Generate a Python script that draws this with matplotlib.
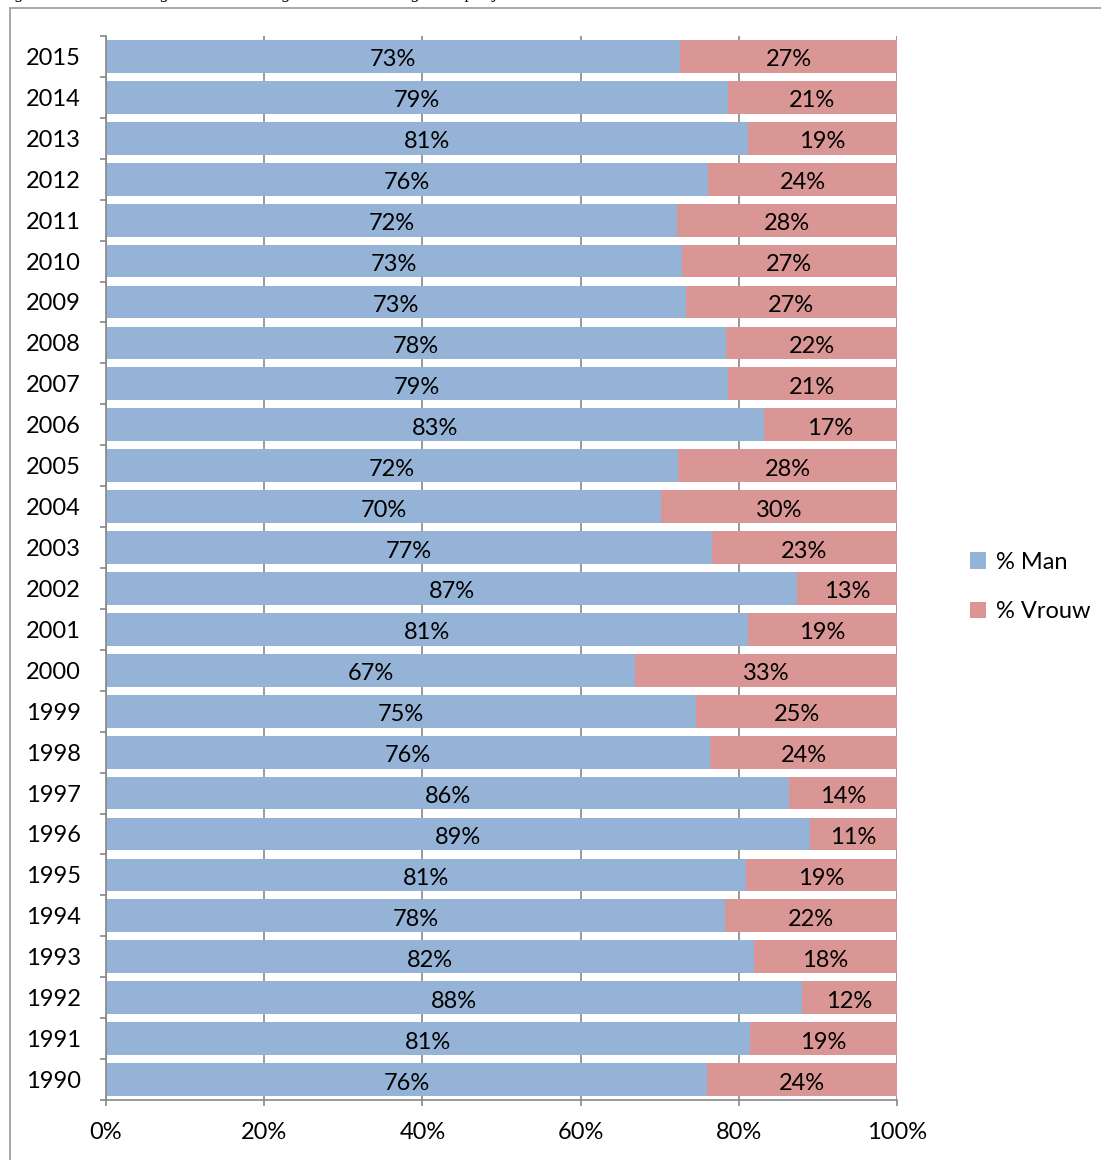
import matplotlib
matplotlib.use("Agg")
import matplotlib.pyplot as plt
from matplotlib.patches import Rectangle
from matplotlib.transforms import offset_copy
import numpy as np

years = ["1990", "1991", "1992", "1993", "1994", "1995", "1996", "1997", "1998", "1999",
         "2000", "2001", "2002", "2003", "2004", "2005", "2006", "2007", "2008", "2009",
         "2010", "2011", "2012", "2013", "2014", "2015"]
pct_man = [76.0, 81.4, 88.0, 81.9, 78.3, 80.9, 89.0, 86.4, 76.4, 74.6,
           66.9, 81.2, 87.4, 76.6, 70.2, 72.3, 83.2, 78.6, 78.4, 73.3,
           72.8, 72.2, 76.1, 81.2, 78.6, 72.6]
pct_vrouw = [100 - v for v in pct_man]
series_names = ["% Man", "% Vrouw"]
x_ticks = [0, 20, 40, 60, 80, 100]
x_ticklabels = ["0%", "20%", "40%", "60%", "80%", "100%"]

c_man = "#95B3D7"
c_vrouw = "#D99694"
font = "Lato"
fs = 17

fig = plt.figure(figsize=(11.01, 11.60), dpi=100)
W, H = 1101, 1160
ax = fig.add_axes([106 / W, 60 / H, (897 - 106) / W, (1100 - 36) / H])

y = np.arange(len(years))
ax.barh(y, pct_man, height=0.8, color=c_man, label=series_names[0], zorder=3)
ax.barh(y, pct_vrouw, left=pct_man, height=0.8, color=c_vrouw, label=series_names[1], zorder=3)

tr = offset_copy(ax.transData, fig=fig, x=0, y=-3.5, units="dots")
for i in range(len(years)):
    m, v = pct_man[i], pct_vrouw[i]
    ax.text(m / 2, i, f"{round(m)}%", ha="center", va="center", fontsize=fs,
            family=font, color="black", zorder=4, transform=tr)
    ax.text(m + v / 2, i, f"{round(v)}%", ha="center", va="center", fontsize=fs,
            family=font, color="black", zorder=4, transform=tr)

ax.set_xlim(0, 100)
ax.set_ylim(-0.5, len(years) - 0.5)
ax.set_xticks(x_ticks)
ax.set_xticklabels(x_ticklabels, family=font, fontsize=fs)
ax.set_yticks(y)
ax.set_yticklabels(years, family=font, fontsize=fs)
ax.set_yticks(np.arange(-0.5, len(years), 1), minor=True)
ax.tick_params(axis="y", which="major", length=0, pad=18)
ax.tick_params(axis="y", which="minor", length=4.5, color="#878787", width=1.2, direction="out")
ax.tick_params(axis="x", which="major", length=4.5, color="#878787", width=1.2, direction="out", pad=11)
ax.grid(axis="x", color="#878787", linewidth=1.2, zorder=0)

for s in ["top", "right"]:
    ax.spines[s].set_visible(False)
for s in ["left", "bottom"]:
    ax.spines[s].set_color("#878787")
    ax.spines[s].set_linewidth(1.2)
    ax.spines[s].set_zorder(5)

handles, labels = ax.get_legend_handles_labels()
leg = fig.legend(handles, labels, loc="center left", bbox_to_anchor=(958 / W, 1 - 587 / H),
                 frameon=False, prop={"family": font, "size": fs},
                 handlelength=0.7, handleheight=0.7, handletextpad=0.4, labelspacing=1.2,
                 borderpad=0)

# outer frame
fig.patches.append(Rectangle((9.5 / W, -0.01), 1.2, 1 - 8 / H + 0.01, transform=fig.transFigure,
                             fill=False, edgecolor="#9a9a9a", linewidth=1.2))

# cut-off caption at the very top (cropped in the original as well)
fig.text(0.0, 1.0 + 1.5 / H, "Figuur 6.1 - Verhouding man/vrouw aangeschreven en aangesteld per jaar",
         family="Liberation Serif", style="italic", fontsize=12.5, va="baseline", ha="left")

fig.savefig("out.png", dpi=100)
